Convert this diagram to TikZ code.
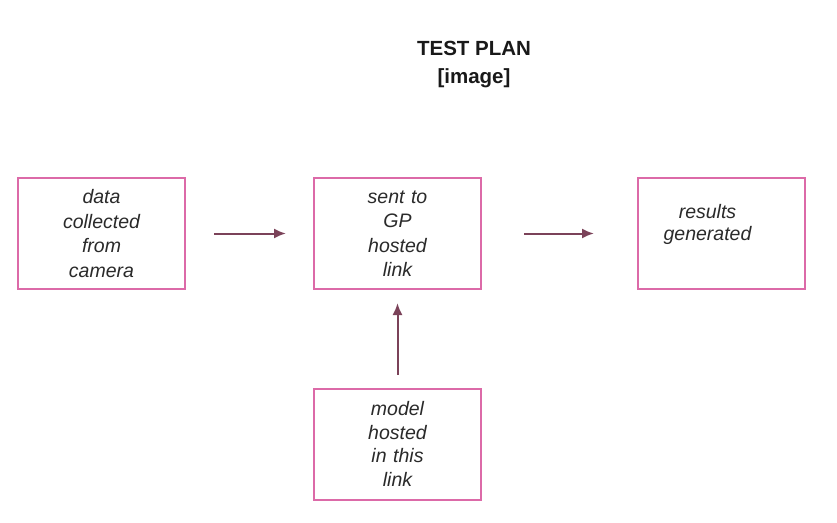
\documentclass[tikz,border=0pt]{standalone}
\usepackage{fontspec}
\setmainfont{Liberation Sans}
\usepackage{tikz}
\usepackage{xcolor}
\usetikzlibrary{arrows.meta,positioning,calc}
\definecolor{StepBorder}{HTML}{DC6AA8}
\definecolor{StepText}{HTML}{2A2A2A}
\definecolor{FlowArrow}{HTML}{7A2E4C}
\tikzstyle{StepNode} =[draw=StepBorder,line width=2pt,minimum width=167pt,minimum height=111pt,text width=150pt,align=center,text=StepText,font=\itshape\fontsize{19.5}{24.5}\selectfont]
\tikzstyle{FlowLine} =[-{Latex[length=12pt,width=10pt]},draw=FlowArrow!75!gray,line width=2pt]

\begin{document}
\begin{tikzpicture}[x=1pt,y=1pt,node distance=1pt,on grid]
    \useasboundingbox[fill=white] (0,0) rectangle (837,-522);
    \node[align=center,font=\bfseries\fontsize{20.5}{28}\selectfont,text=black!90](TitleNode) at (474,-65){TEST PLAN\\ {[image]}};

    \node[StepNode](Camera-Data) at (101.5,-233.5){data\\ collected\\ from\\ camera};
    \node[StepNode,right=296 of Camera-Data](GP-Link){sent to\\ GP\\ hosted\\ link};
    \node[StepNode,right=324 of GP-Link,font=\itshape\fontsize{19.5}{22}\selectfont](Results){results\makebox[28pt]{}\\ generated\makebox[28pt]{}\\ \mbox{}};
    \node[StepNode,below=210.5 of GP-Link,font=\itshape\fontsize{19.5}{23.5}\selectfont](Model-Host){model\\ hosted\\ in this\\ link};

    \draw[FlowLine,shorten <=28pt,shorten >=27pt] (Camera-Data) -- (GP-Link);
    \draw[FlowLine,shorten <=42pt,shorten >=43pt] (GP-Link) -- (Results);
    \draw[FlowLine,shorten <=13pt,shorten >=13pt] (Model-Host) -- (GP-Link);
\end{tikzpicture}
\end{document}
